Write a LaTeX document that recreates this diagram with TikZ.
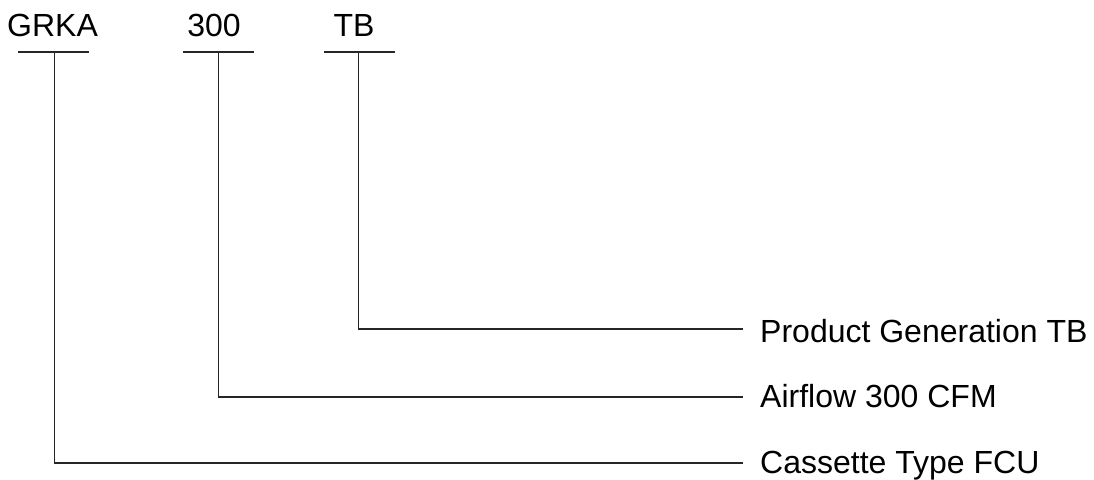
\documentclass[tikz,border=0pt]{standalone}
\usepackage{fontspec}
\setmainfont{Liberation Sans}
\begin{document}
\begin{tikzpicture}[x=1pt,y=-1pt,
  lbl/.style={font=\fontsize{32}{38}\selectfont, inner sep=0pt, text=black},
  ln/.style={line width=1.6pt, draw=black!85}]
\useasboundingbox (0,0) rectangle (1094,479);
% top code labels
\node[lbl, anchor=base] (grka) at (52.5,36) {GRKA};
\node[lbl, anchor=base] (n300) at (214,36) {300};
\node[lbl, anchor=base] (tb) at (354,36) {TB};
% bars under labels
\coordinate (g1) at (18,52); \coordinate (g2) at (89,52); \coordinate (gm) at (54.5,52);
\coordinate (a1) at (183,52); \coordinate (a2) at (254,52); \coordinate (am) at (218.5,52);
\coordinate (b1) at (324,52); \coordinate (b2) at (395,52); \coordinate (bm) at (358.5,52);
\draw[ln] (g1) -- (g2);
\draw[ln] (a1) -- (a2);
\draw[ln] (b1) -- (b2);
% right descriptions
\node[lbl, anchor=base west] (d1) at (760,342) {Product Generation TB};
\node[lbl, anchor=base west] (d2) at (760,407) {Airflow 300 CFM};
\node[lbl, anchor=base west] (d3) at (760,473) {Cassette Type FCU};
\coordinate (e1) at (743,329);
\coordinate (e2) at (743,397);
\coordinate (e3) at (743,463);
\draw[ln] (bm) |- (e1);
\draw[ln] (am) |- (e2);
\draw[ln] (gm) |- (e3);
\end{tikzpicture}
\end{document}
